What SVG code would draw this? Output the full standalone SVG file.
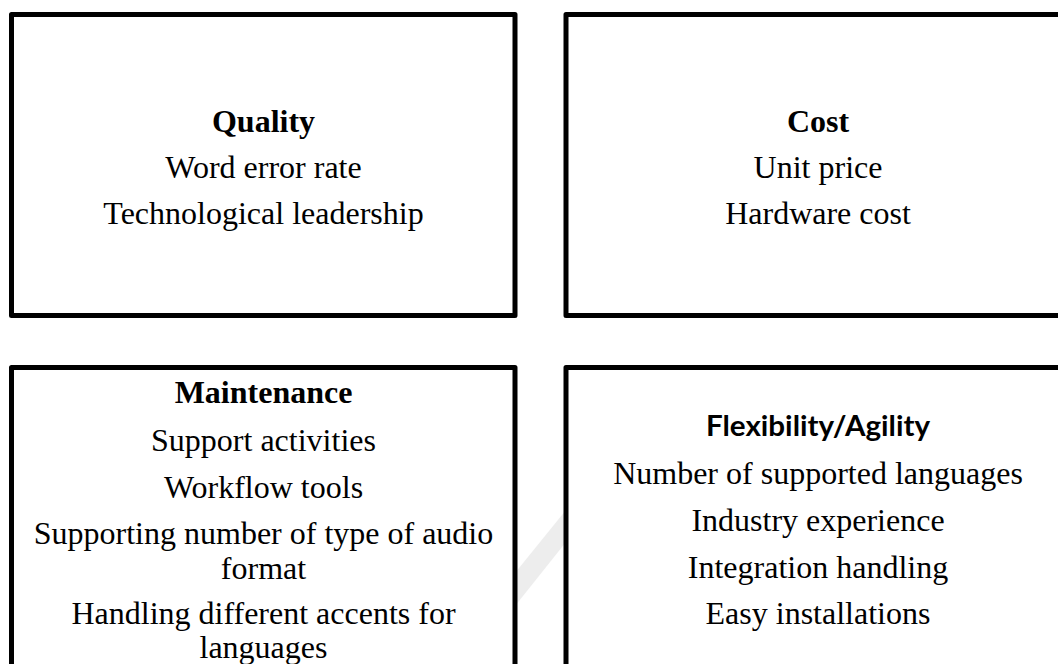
<svg xmlns="http://www.w3.org/2000/svg" width="1058" height="664" viewBox="0 0 1058 664">
  <style>
    .box { fill: #ffffff; stroke: #000000; stroke-width: 5; stroke-linejoin: round; }
    .t { font-family: "Liberation Serif", "Times New Roman", serif; font-size: 32px; fill: #000000; text-anchor: middle; }
    .h { font-weight: bold; }
    .hs { font-family: Lato, "Open Sans", "Liberation Sans", sans-serif; font-size: 29px; font-weight: bold; fill: #000000; text-anchor: middle; }
  </style>

  <!-- page background -->
  <rect x="0" y="0" width="1058" height="664" fill="#ffffff"/>
  <!-- faint background band showing between the lower boxes -->
  <polygon points="566,510 566,542 515,606 515,573" fill="#ededed"/>

  <g id="quality">
    <rect class="box" x="11.5" y="14.5" width="503.5" height="301"/>
    <text class="t h" x="263.5" y="132">Quality</text>
    <text class="t" x="263.5" y="178">Word error rate</text>
    <text class="t" x="263.5" y="224">Technological leadership</text>
  </g>

  <g id="cost">
    <rect class="box" x="566" y="14.5" width="503.5" height="301"/>
    <text class="t h" x="818" y="132">Cost</text>
    <text class="t" x="818" y="178">Unit price</text>
    <text class="t" x="818" y="224">Hardware cost</text>
  </g>

  <g id="maintenance">
    <rect class="box" x="11.5" y="367.5" width="503.5" height="340"/>
    <text class="t h" x="263.5" y="403">Maintenance</text>
    <text class="t" x="263.5" y="451">Support activities</text>
    <text class="t" x="263.5" y="498">Workflow tools</text>
    <text class="t" x="263.5" y="544">Supporting number of type of audio</text>
    <text class="t" x="263.5" y="578.5">format</text>
    <text class="t" x="263.5" y="624">Handling different accents for</text>
    <text class="t" x="263.5" y="657.5">languages</text>
  </g>

  <g id="flexibility">
    <rect class="box" x="566" y="367.5" width="503.5" height="340"/>
    <text class="hs" x="818" y="436" textLength="224" lengthAdjust="spacingAndGlyphs">Flexibility/Agility</text>
    <text class="t" x="818" y="484">Number of supported languages</text>
    <text class="t" x="818" y="531">Industry experience</text>
    <text class="t" x="818" y="578">Integration handling</text>
    <text class="t" x="818" y="623.5">Easy installations</text>
  </g>

  <g id="connectors"></g>
</svg>
